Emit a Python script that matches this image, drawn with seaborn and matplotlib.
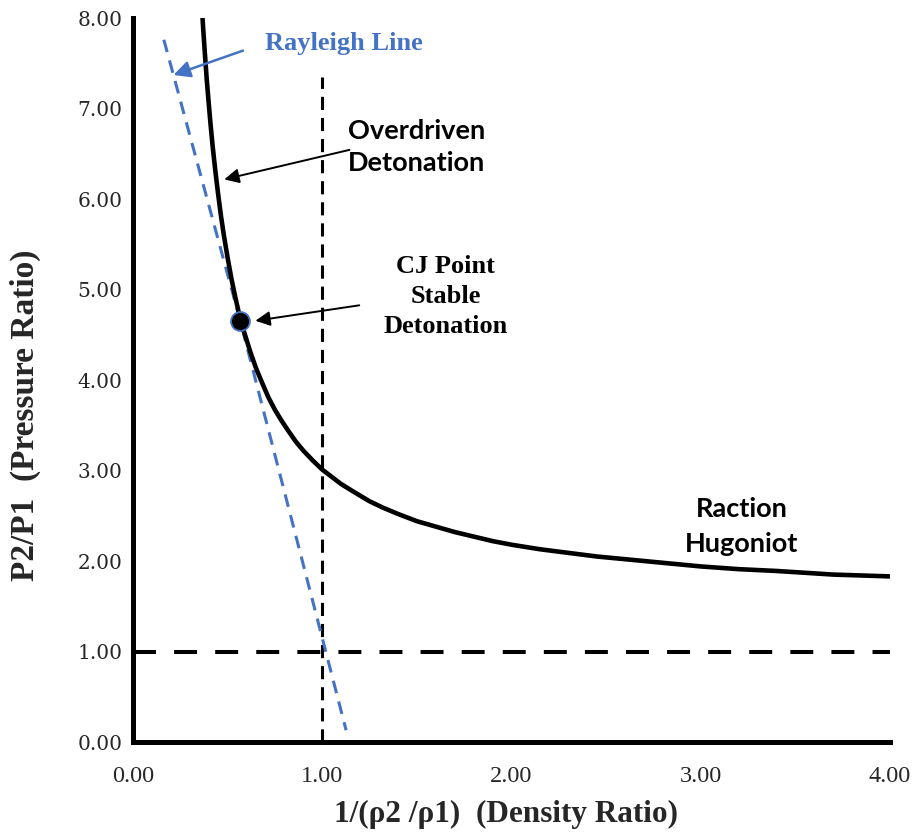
import matplotlib
matplotlib.use("Agg")
import matplotlib.pyplot as plt
import seaborn as sns

# ---- data ----
hug_x = [0.365, 0.37, 0.38, 0.39, 0.40, 0.41, 0.42, 0.435, 0.45, 0.465, 0.48, 0.50,
         0.52, 0.54, 0.567, 0.59, 0.62, 0.65, 0.68, 0.715, 0.75, 0.785, 0.82, 0.86,
         0.90, 0.95, 1.00, 1.05, 1.10, 1.17, 1.25, 1.32, 1.40, 1.50, 1.60, 1.70,
         1.80, 1.90, 2.00, 2.15, 2.30, 2.45, 2.60, 2.80, 3.00, 3.20, 3.40, 3.55,
         3.70, 3.85, 4.00]
hug_y = [8.08, 7.91, 7.60, 7.31, 7.06, 6.82, 6.60, 6.31, 6.05, 5.81, 5.60, 5.35,
         5.12, 4.92, 4.67, 4.51, 4.31, 4.13, 3.98, 3.81, 3.67, 3.55, 3.44, 3.32,
         3.22, 3.11, 3.01, 2.93, 2.85, 2.76, 2.66, 2.59, 2.52, 2.44, 2.38, 2.32,
         2.27, 2.22, 2.18, 2.13, 2.09, 2.05, 2.02, 1.98, 1.94, 1.91, 1.89, 1.87,
         1.85, 1.84, 1.83]
ray_x = [0.163, 0.567, 1.126]
ray_y = [7.76, 4.65, 0.13]
cj_x = [0.567]
cj_y = [4.65]
vline_x = [1.0, 1.0]
vline_y = [0.0, 7.35]
hline_x = [0.0, 4.0]
hline_y = [1.0, 1.0]
xticks = [0, 1, 2, 3, 4]
yticks = [0, 1, 2, 3, 4, 5, 6, 7, 8]

BLUE = "#4472C4"

sns.set_style("white")
fig = plt.figure(figsize=(9.23, 8.34), dpi=100)
ax = fig.add_axes([0.1441, 0.1103, 0.8202, 0.8681])

sns.lineplot(x=hline_x, y=hline_y, ax=ax, color="black", lw=2.9,
             linestyle=(0, (5.7, 4.5)), sort=False, estimator=None)
sns.lineplot(x=vline_x, y=vline_y, ax=ax, color="black", lw=2.2,
             linestyle=(0, (4.3, 2.6)), sort=False, estimator=None)
sns.lineplot(x=ray_x, y=ray_y, ax=ax, color=BLUE, lw=2.2,
             linestyle=(0, (4.2, 2.8)), sort=False, estimator=None)
sns.lineplot(x=hug_x, y=hug_y, ax=ax, color="black", lw=3.3,
             sort=False, estimator=None, solid_joinstyle="round",
             solid_capstyle="round")
sns.scatterplot(x=cj_x, y=cj_y, ax=ax, color="black", s=185,
                edgecolor=BLUE, linewidth=1.3, zorder=5)

ax.set_xlim(0, 4)
ax.set_ylim(0, 8)
ax.set_xticks(xticks)
ax.set_yticks(yticks)
ax.set_xticklabels([f"{v:.2f}" for v in xticks], fontfamily="Liberation Serif", fontsize=17.5)
ax.set_yticklabels([f"{v:.2f}" for v in yticks], fontfamily="DejaVu Serif", fontsize=14.5)
for s in ["top", "right"]:
    ax.spines[s].set_visible(False)
for s in ["left", "bottom"]:
    ax.spines[s].set_linewidth(3.6)
    ax.spines[s].set_color("black")
ax.tick_params(axis="both", direction="out", length=3.5, width=2.5, color="black", pad=4)
ax.tick_params(axis="x", pad=14)

ax.set_xlabel("1/(ρ2 /ρ1)  (Density Ratio)", fontfamily="Liberation Serif",
              fontweight="bold", fontsize=22.5)
ax.set_ylabel("P2/P1  (Pressure Ratio)", fontfamily="Liberation Serif",
              fontweight="bold", fontsize=24)
ax.xaxis.set_label_coords(0.493, -0.080)
ax.yaxis.set_label_coords(-0.122, 0.452)

# annotations
ax.annotate("", xy=(0.20, 7.36), xytext=(0.595, 7.65),
            arrowprops=dict(arrowstyle="-|>", color=BLUE, lw=1.8, mutation_scale=25))
ax.text(1.116, 7.72, "Rayleigh Line", color=BLUE, fontfamily="Liberation Serif",
        fontweight="bold", fontsize=19, ha="center", va="center")

ax.annotate("", xy=(0.468, 6.21), xytext=(1.158, 6.55),
            arrowprops=dict(arrowstyle="-|>", color="black", lw=1.4, mutation_scale=22))
ax.text(1.5, 6.57, "Overdriven\nDetonation", color="black", fontfamily="Lato",
        fontweight="bold", fontsize=19.5, ha="center", va="center", linespacing=1.4)

ax.annotate("", xy=(0.632, 4.65), xytext=(1.21, 4.83),
            arrowprops=dict(arrowstyle="-|>", color="black", lw=1.4, mutation_scale=22))
ax.text(1.653, 4.92, "CJ Point\nStable\nDetonation", color="black",
        fontfamily="Liberation Serif", fontweight="bold", fontsize=19,
        ha="center", va="center", linespacing=1.38)

ax.text(3.216, 2.376, "Raction\nHugoniot", color="black", fontfamily="Lato",
        fontweight="bold", fontsize=19.5, ha="center", va="center", linespacing=1.55)

fig.savefig("out.png", dpi=100)
